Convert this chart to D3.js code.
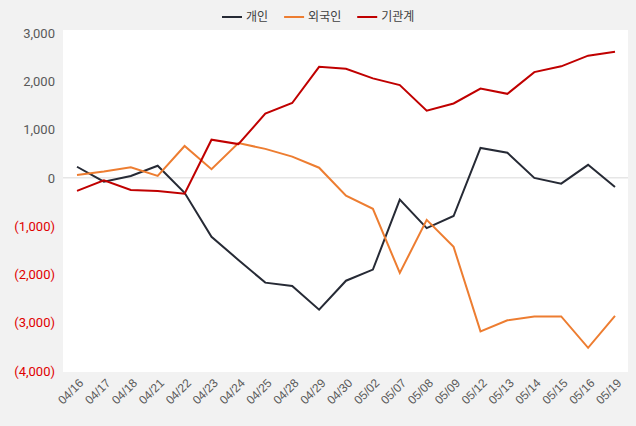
<!DOCTYPE html>
<html><head><meta charset="utf-8">
<script src="https://cdn.jsdelivr.net/npm/d3@7"></script>
<style>body{margin:0;background:#f2f2f2;font-family:Roboto,"Noto Sans CJK KR",sans-serif}</style>
</head><body><svg id="c" width="636" height="426"></svg>
<script>
const categories=["04/16","04/17","04/18","04/21","04/22","04/23","04/24","04/25","04/28","04/29","04/30","05/02","05/07","05/08","05/09","05/12","05/13","05/14","05/15","05/16","05/19"];
const individual=[230,-80,40,250,-310,-1220,-1700,-2170,-2240,-2730,-2130,-1900,-450,-1040,-790,620,520,0,-120,270,-190];
const foreign=[60,130,220,40,660,180,720,600,440,210,-370,-640,-1970,-870,-1430,-3180,-2950,-2870,-2870,-3520,-2860];
const institution=[-270,-50,-250,-270,-330,790,700,1330,1550,2300,2260,2060,1920,1390,1540,1850,1740,2190,2310,2530,2610];
const yTicks=[3000,2000,1000,0,-1000,-2000,-3000,-4000];
const series=[{name:"개인",v:individual,c:"#262a35"},{name:"외국인",v:foreign,c:"#ed7d31"},{name:"기관계",v:institution,c:"#c00000"}];
const svg=d3.select("#c");
svg.append("rect").attr("x",63).attr("y",30).attr("width",565).attr("height",342).attr("fill","#fff");
const x=d3.scalePoint().domain(categories).range([77,615]);
const y=d3.scaleLinear().domain([-4000,3000]).range([371,33]);
const fmt=d=>d<0?"("+d3.format(",")(-d)+")":d3.format(",")(d);
svg.append("line").attr("x1",63).attr("x2",628).attr("y1",y(0)).attr("y2",y(0)).attr("stroke","#d9d9d9");
const ya=svg.append("g").attr("transform","translate(63,0)").call(d3.axisLeft(y).tickValues(yTicks).tickFormat(fmt).tickSize(0).tickPadding(8));
ya.select(".domain").remove();
ya.selectAll("text").attr("font-size",13).attr("fill",d=>d<0?"#e00000":"#595959").attr("font-family","Roboto,sans-serif");
const xa=svg.append("g").attr("transform","translate(0,372)").call(d3.axisBottom(x).tickSize(0).tickPadding(6));
xa.select(".domain").remove();
xa.selectAll("text").attr("font-size",12).attr("fill","#595959").attr("text-anchor","end").attr("transform","rotate(-45)").attr("dx","-0.3em").attr("dy","0.6em");
const line=d3.line().x((d,i)=>x(categories[i])).y(d=>y(d));
series.forEach(s=>svg.append("path").attr("d",line(s.v)).attr("fill","none").attr("stroke",s.c).attr("stroke-width",2));
let lx=222;
series.forEach(s=>{
 const g=svg.append("g").attr("transform",`translate(${lx},17)`);
 g.append("line").attr("x1",0).attr("x2",20).attr("stroke",s.c).attr("stroke-width",2);
 const t=g.append("text").attr("x",24).attr("dy","0.35em").attr("font-size",12).attr("fill","#404040").text(s.name);
 lx+=24+t.node().getComputedTextLength()+16;
});
</script></body></html>
